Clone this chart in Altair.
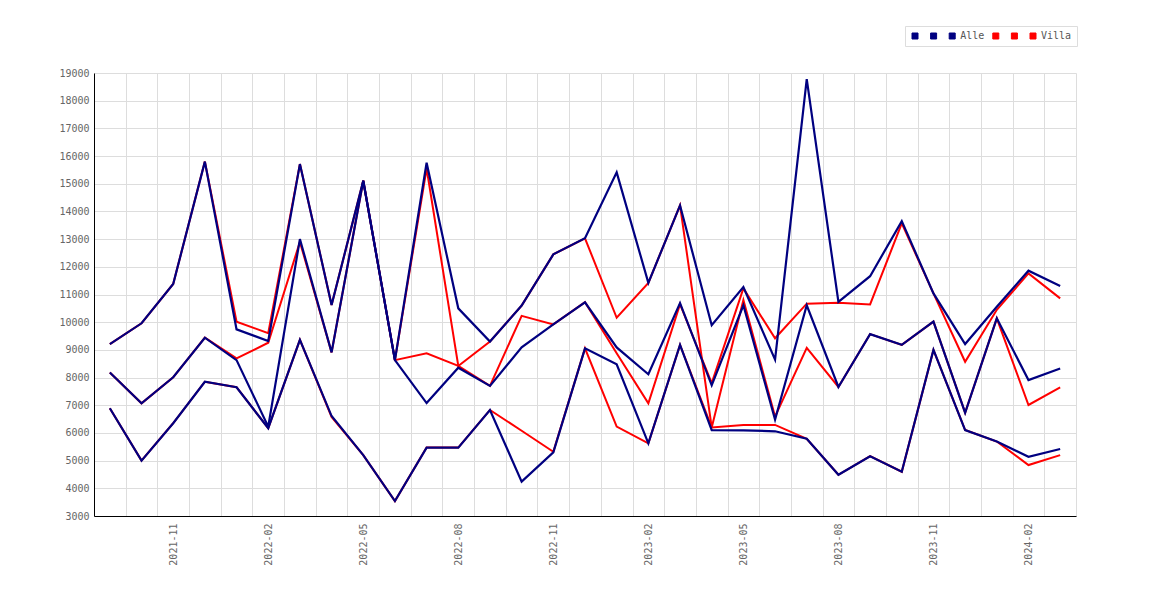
import json
import altair as alt
import pandas as pd

months = [
    "2021-09", "2021-10", "2021-11", "2021-12",
    "2022-01", "2022-02", "2022-03", "2022-04", "2022-05", "2022-06",
    "2022-07", "2022-08", "2022-09", "2022-10", "2022-11", "2022-12",
    "2023-01", "2023-02", "2023-03", "2023-04", "2023-05", "2023-06",
    "2023-07", "2023-08", "2023-09", "2023-10", "2023-11", "2023-12",
    "2024-01", "2024-02", "2024-03",
]

alle_a = [9210, 9960, 11380, 15800, 9740, 9320, 15710, 10620, 15110, 8630,
          15760, 10500, 9300, 10600, 12450, 13030, 15410, 11420, 14220, 9890,
          11270, 8650, 18780, 10730, 11660, 13650, 11040, 9210, 10560, 11860, 11310]
alle_b = [8180, 7070, 8010, 9440, 8630, 6225, 13000, 8910, 15110, 8630,
          7080, 8355, 7700, 9090, 9920, 10720, 9090, 8120, 10690, 7720,
          10610, 6480, 10610, 7660, 9570, 9180, 10020, 6730, 10140, 7910, 8330]
alle_c = [6890, 5000, 6350, 7850, 7650, 6170, 9360, 6610, 5200, 3540,
          5470, 5470, 6830, 4240, 5300, 9055, 8480, 5625, 9180, 6100,
          6095, 6060, 5790, 4490, 5160, 4600, 9000, 6105, 5690, 5140, 5420]

villa_a = [9210, 9960, 11380, 15800, 10020, 9600, 15710, 10620, 15110, 8630,
           15550, 8420, 9300, 10600, 12450, 13030, 10160, 11420, 14220, 6200,
           10800, 6590, 9070, 7660, 9570, 9180, 10020, 6730, 10140, 7010, 7650]
villa_b = [8180, 7070, 8010, 9440, 8690, 9260, 12900, 8910, 15110, 8630,
           8880, 8420, 7700, 10230, 9920, 10720, 8880, 7070, 10650, 7800,
           11220, 9420, 10670, 10700, 10640, 13570, 11040, 8570, 10450, 11760, 10860]
villa_c = [6890, 5000, 6350, 7850, 7650, 6170, 9360, 6580, 5200, 3540,
           5470, 5470, 6830, 6080, 5320, 9055, 6230, 5625, 9180, 6200,
           6290, 6290, 5790, 4490, 5160, 4600, 9000, 6105, 5690, 4840, 5200]

series_names = ["Alle_a", "Alle_b", "Alle", "Villa_a", "Villa_b", "Villa"]
series_values = [alle_a, alle_b, alle_c, villa_a, villa_b, villa_c]
series_group = ["Alle", "Alle", "Alle", "Villa", "Villa", "Villa"]
colors = ["#000080", "#000080", "#000080", "#ff0000", "#ff0000", "#ff0000"]
y_ticks = list(range(3000, 19001, 1000))

rows = []
for name, vals, grp in zip(series_names, series_values, series_group):
    for i, v in enumerate(vals):
        rows.append({"idx": i, "value": v, "series": name, "group": grp})
df = pd.DataFrame(rows)

FONT = "DejaVu Sans Mono"
grid_vals = [k + 0.5 for k in range(-1, len(months))]
label_expr = (
    "((datum.value + 0.5) % 3 == 2) ? " + json.dumps(months) + "[datum.value + 0.5] : ''"
)

x_enc = alt.X(
    "idx:Q",
    scale=alt.Scale(domain=[-0.5, len(months) - 0.5], nice=False, zero=False),
    axis=alt.Axis(
        values=grid_vals,
        labelExpr=label_expr,
        labelOffset=15.84,
        labelAngle=270,
        labelAlign="right",
        labelBaseline="middle",
        labelPadding=7,
        labelOverlap=False,
        labelFlush=False,
        ticks=False,
        tickSize=0,
        grid=True,
        gridColor="#dddddd",
        domainColor="#000000",
        labelColor="#666666",
        labelFont=FONT,
        labelFontSize=10,
        title=None,
    ),
)
y_enc = alt.Y(
    "value:Q",
    scale=alt.Scale(domain=[3000, 19000], nice=False, zero=False),
    axis=alt.Axis(
        values=y_ticks,
        format="d",
        ticks=False,
        tickSize=0,
        labelPadding=5,
        grid=True,
        gridColor="#dddddd",
        domainColor="#000000",
        labelColor="#666666",
        labelFont=FONT,
        labelFontSize=10,
        title=None,
    ),
)
color_scale = alt.Scale(domain=series_names, range=colors)
color_line = alt.Color("series:N", scale=color_scale)
color_legend = alt.Color(
    "series:N",
    scale=color_scale,
    legend=alt.Legend(
        title=None,
        orient="none",
        legendX=811,
        legendY=-47,
        direction="horizontal",
        symbolType="square",
        symbolSize=36,
        symbolStrokeWidth=1,
        symbolStrokeColor="#666666",
        symbolOpacity=1,
        labelExpr="(datum.label == 'Alle' || datum.label == 'Villa') ? datum.label : ' '",
        labelFont=FONT,
        labelFontSize=10,
        labelColor="#555555",
        labelOffset=3,
        columnPadding=5.6,
        padding=5,
        strokeColor="#dddddd",
        fillColor="#ffffff",
    ),
)

base = alt.Chart(df).encode(x=x_enc, y=y_enc, detail="series:N")

legend_layer = (
    base.transform_filter("datum.idx < 0")
    .mark_square(opacity=1, filled=True)
    .encode(color=color_legend)
)
villa = (
    base.transform_filter(alt.datum.group == "Villa")
    .mark_line(strokeWidth=2)
    .encode(color=color_line)
)
alle = (
    base.transform_filter(alt.datum.group == "Alle")
    .mark_line(strokeWidth=2.2)
    .encode(color=color_line)
)

chart = (
    alt.layer(legend_layer, villa, alle)
    .properties(
        width=982,
        height=443,
        autosize=alt.AutoSizeParams(type="none"),
        padding={"left": 86, "top": 65, "right": 20, "bottom": 60},
        background="#ffffff",
    )
    .configure_view(stroke=None)
)

chart.save("out.html", embed_options={"renderer": "svg", "actions": False})
